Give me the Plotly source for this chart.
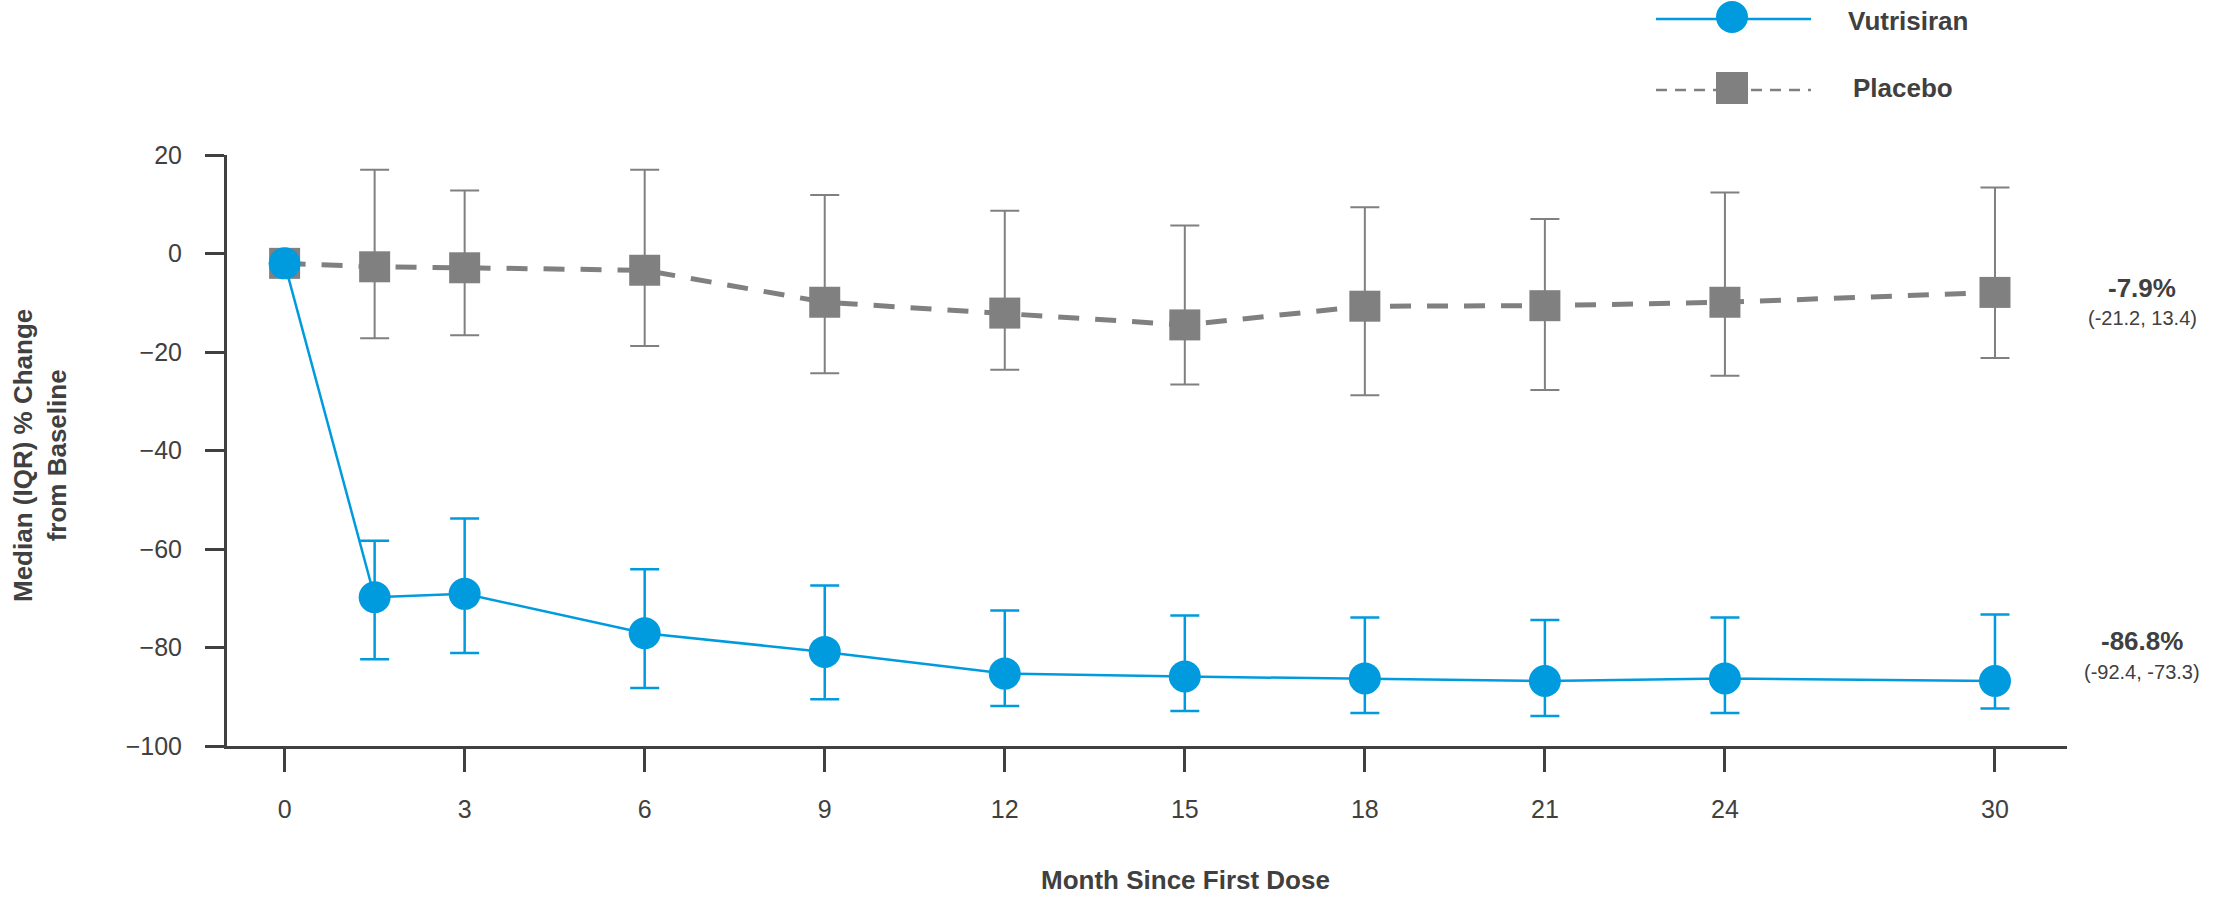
import plotly.graph_objects as go

# ---------------- data ----------------
months = [0, 1.5, 3, 6, 9, 12, 15, 18, 21, 24, 30]
tick_months = [0, 3, 6, 9, 12, 15, 18, 21, 24, 30]

vut_median = [-2.0, -69.8, -69.1, -77.1, -80.9, -85.3, -85.9, -86.3, -86.8, -86.3, -86.8]
vut_q1 = [None, -82.4, -81.1, -88.2, -90.5, -91.9, -92.9, -93.3, -93.9, -93.3, -92.4]
vut_q3 = [None, -58.3, -53.8, -64.1, -67.4, -72.5, -73.5, -73.9, -74.4, -73.9, -73.3]

pla_median = [-2.0, -2.7, -2.9, -3.4, -9.9, -12.1, -14.5, -10.7, -10.6, -9.9, -7.9]
pla_q1 = [None, -17.2, -16.6, -18.8, -24.3, -23.6, -26.6, -28.8, -27.7, -24.8, -21.2]
pla_q3 = [None, 17.0, 12.8, 17.0, 11.9, 8.7, 5.7, 9.4, 7.0, 12.4, 13.4]

series_names = ["Vutrisiran", "Placebo"]

# ---------------- styling ----------------
BLUE = "#009BDE"
GRAY = "#808080"
TXT = "#404040"
FONT = "Liberation Sans, Arial, sans-serif"

W, H = 2216, 901
ML, MR, MT, MB = 227, 149, 155, 155
PW, PH = W - ML - MR, H - MT - MB


def axis_pos(m):
    # compressed axis: 3-month steps, last interval (24 -> 30) drawn as 1.5 steps
    return m / 3 if m <= 24 else 8 + (m - 24) / 4


def px_x(px):
    return (px - ML) / PW


def px_y(py):
    return (H - MB - py) / PH


def err(med, q1, q3):
    plus = [None if b is None else b - m for m, b in zip(med, q3)]
    minus = [None if a is None else m - a for m, a in zip(med, q1)]
    return plus, minus


xs = [axis_pos(m) for m in months]
pla_plus, pla_minus = err(pla_median, pla_q1, pla_q3)
vut_plus, vut_minus = err(vut_median, vut_q1, vut_q3)

fig = go.Figure()

fig.add_trace(go.Scatter(
    x=xs, y=pla_median, name=series_names[1], mode="lines+markers",
    line=dict(color=GRAY, width=5, dash="21px,16px"),
    marker=dict(symbol="square", size=31, color=GRAY),
    error_y=dict(type="data", array=pla_plus, arrayminus=pla_minus,
                 color=GRAY, thickness=2, width=14.5),
    showlegend=False,
))

fig.add_trace(go.Scatter(
    x=xs, y=vut_median, name=series_names[0], mode="lines+markers",
    line=dict(color=BLUE, width=2.5),
    marker=dict(symbol="circle", size=32, color=BLUE),
    error_y=dict(type="data", array=vut_plus, arrayminus=vut_minus,
                 color=BLUE, thickness=2.5, width=14.5),
    showlegend=False,
))

annotations = []
# end-of-study labels
annotations.append(dict(xref="paper", yref="y", x=px_x(2142), y=pla_median[-1], yshift=4,
                        text=f"<b>{pla_median[-1]:.1f}%</b>", showarrow=False,
                        font=dict(size=26, color=TXT, family=FONT), xanchor="center", yanchor="middle"))
annotations.append(dict(xref="paper", yref="y", x=px_x(2142), y=pla_median[-1], yshift=-26,
                        text=f"({pla_q1[-1]:.1f}, {pla_q3[-1]:.1f})", showarrow=False,
                        font=dict(size=20, color=TXT, family=FONT), xanchor="center", yanchor="middle"))
annotations.append(dict(xref="paper", yref="y", x=px_x(2142), y=vut_median[-1], yshift=40,
                        text=f"<b>{vut_median[-1]:.1f}%</b>", showarrow=False,
                        font=dict(size=26, color=TXT, family=FONT), xanchor="center", yanchor="middle"))
annotations.append(dict(xref="paper", yref="y", x=px_x(2142), y=vut_median[-1], yshift=9,
                        text=f"({vut_q1[-1]:.1f}, {vut_q3[-1]:.1f})", showarrow=False,
                        font=dict(size=20, color=TXT, family=FONT), xanchor="center", yanchor="middle"))

# axis titles
annotations.append(dict(xref="paper", yref="paper", x=px_x(1185), y=px_y(880),
                        text="<b>Month Since First Dose</b>", showarrow=False,
                        font=dict(size=26, color=TXT, family=FONT), xanchor="center", yanchor="middle"))
annotations.append(dict(xref="paper", yref="paper", x=px_x(40), y=px_y(456),
                        text="<b>Median (IQR) % Change<br>from Baseline</b>", showarrow=False,
                        textangle=-90,
                        font=dict(size=26, color=TXT, family=FONT), xanchor="center", yanchor="middle"))

# legend text
annotations.append(dict(xref="paper", yref="paper", x=px_x(1846), y=px_y(21),
                        text=f"<b>{series_names[0]}</b>", showarrow=False,
                        font=dict(size=26, color=TXT, family=FONT), xanchor="left", yanchor="middle"))
annotations.append(dict(xref="paper", yref="paper", x=px_x(1851), y=px_y(88),
                        text=f"<b>{series_names[1]}</b>", showarrow=False,
                        font=dict(size=26, color=TXT, family=FONT), xanchor="left", yanchor="middle"))

shapes = [
    # legend: Vutrisiran
    dict(type="line", xref="paper", yref="paper", x0=px_x(1656), x1=px_x(1811), y0=px_y(19), y1=px_y(19),
         line=dict(color=BLUE, width=2.7)),
    dict(type="circle", xref="paper", yref="paper", xsizemode="pixel", ysizemode="pixel",
         xanchor=px_x(1732), yanchor=px_y(17), x0=-16, x1=16, y0=-16, y1=16,
         fillcolor=BLUE, line=dict(width=0)),
    # legend: Placebo
    dict(type="line", xref="paper", yref="paper", x0=px_x(1656), x1=px_x(1811), y0=px_y(90), y1=px_y(90),
         line=dict(color=GRAY, width=2.7, dash="11px,8px")),
    dict(type="rect", xref="paper", yref="paper", xsizemode="pixel", ysizemode="pixel",
         xanchor=px_x(1732), yanchor=px_y(88), x0=-16, x1=16, y0=-16, y1=16,
         fillcolor=GRAY, line=dict(width=0)),
]

fig.update_layout(
    width=W, height=H,
    margin=dict(l=ML, r=MR, t=MT, b=MB, pad=0),
    paper_bgcolor="white", plot_bgcolor="white",
    font=dict(family=FONT, color=TXT, size=25),
    showlegend=False,
    annotations=annotations,
    shapes=shapes,
)

fig.update_xaxes(
    range=[-0.32, 9.9],
    tickmode="array",
    tickvals=[axis_pos(m) for m in tick_months],
    ticktext=[str(m) for m in tick_months],
    showline=True, linecolor=TXT, linewidth=3,
    ticks="outside", ticklen=23, tickwidth=2.5, tickcolor=TXT,
    tickfont=dict(size=25, color=TXT, family=FONT),
    ticklabelstandoff=16,
    showgrid=False, zeroline=False,
)

fig.update_yaxes(
    range=[-100, 20],
    tickmode="array",
    tickvals=[20, 0, -20, -40, -60, -80, -100],
    showline=True, linecolor=TXT, linewidth=3,
    ticks="outside", ticklen=19, tickwidth=2.5, tickcolor=TXT,
    tickfont=dict(size=25, color=TXT, family=FONT),
    ticklabelstandoff=18,
    showgrid=False, zeroline=False,
)

fig.write_html("out.html", config={"displayModeBar": False})
